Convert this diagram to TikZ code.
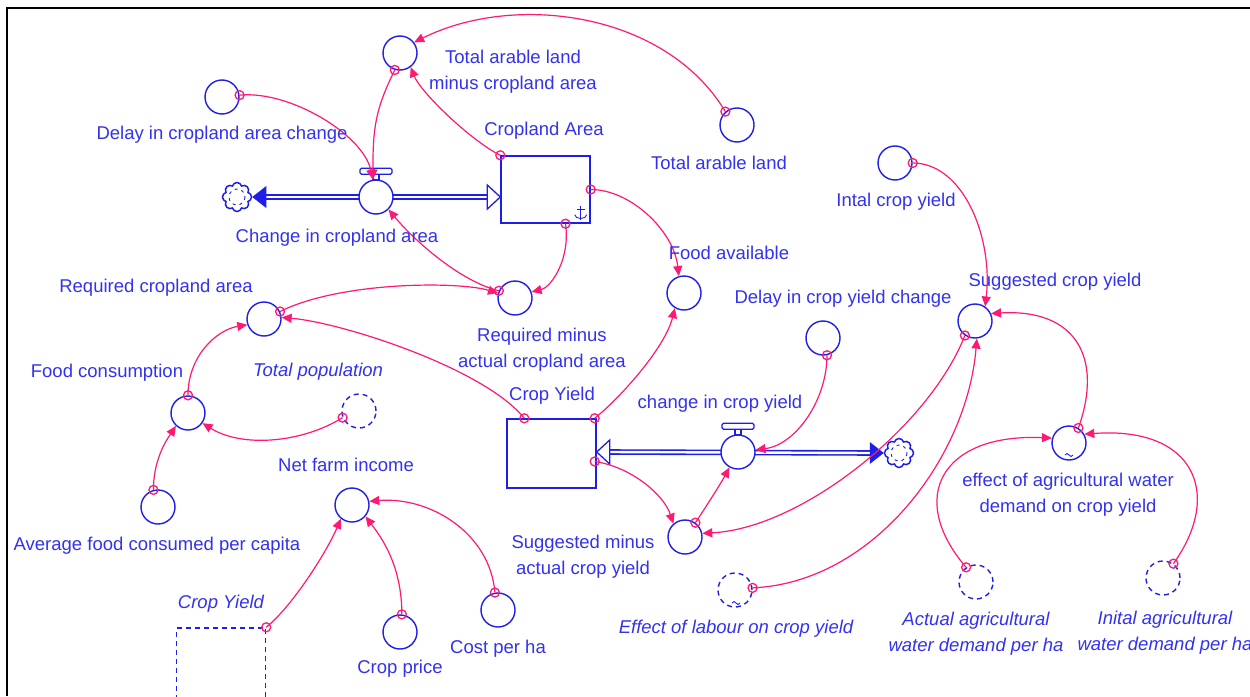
\documentclass[tikz,border=0pt]{standalone}
\usepackage{fontspec}
\setmainfont{Liberation Sans}
\usetikzlibrary{arrows.meta,shapes.symbols,calc,backgrounds}
\definecolor{sdblue}{RGB}{30,30,235}
\definecolor{txblue}{RGB}{50,50,240}
\definecolor{lnkpink}{RGB}{255,25,115}
\newcommand\lblfont{\fontsize{18.5}{26}\selectfont}
\begin{document}
\begin{tikzpicture}[x=1pt,y=-1pt,
 aux/.style={circle, draw=sdblue, fill=white, line width=1.4pt, minimum size=34pt, inner sep=0pt},
 ghost/.style={aux, dash pattern=on 5pt off 4pt},
 stock/.style={rectangle, draw=sdblue, line width=1.4pt, minimum width=89pt, minimum height=67pt, inner sep=0pt},
 cloudnode/.style={cloud, cloud puffs=8, aspect=1, draw=sdblue, fill=white, line width=1.5pt, minimum size=29pt, inner sep=0pt},
 lbl/.style={text=txblue, font=\lblfont, inner sep=0pt, align=center},
 ilbl/.style={lbl, font=\lblfont\itshape},
 link/.style={draw=lnkpink, line width=1.2pt, -{Triangle[length=10pt,width=9pt]}},
 orig/.style={draw=lnkpink, line width=1.3pt},
 pipe/.style={draw=sdblue, line width=1.6pt, double=white, double distance=2.4pt},
 hollow/.style={draw=sdblue, line width=1.3pt, fill=white},
 sdmark/.style={draw=sdblue, line width=0.9pt},
]
\useasboundingbox (0,0) rectangle (1250,696);
\begin{pgfonlayer}{background}
\fill[white] (0,0) rectangle (1250,696);
\end{pgfonlayer}
\draw[line width=2pt] (7,696) -- (7,8) -- (1250,8);

% ---------- stocks ----------
\node[stock] (stockC) at (545.5,189.5) {};
\node[stock, minimum height=69pt] (stockY) at (551.5,453.5) {};
\node[stock, minimum height=88pt, dash pattern=on 5pt off 4pt] (stockG) at (221,672) {};

% ---------- clouds ----------
\node[cloudnode] (cloudC) at (237,197) {};
\node[cloudnode] (cloudY) at (899,453) {};
\draw[sdmark, dash pattern=on 3pt off 4pt] (cloudC.center) circle (8);
\draw[sdmark, dash pattern=on 3pt off 4pt] (cloudY.center) circle (8);

% ---------- valves ----------
\node[aux] (valveC) at (376,197) {};
\node[aux] (valveY) at (738,452) {};

% ---------- auxiliaries ----------
\node[aux] (tal) at (400,53) {};
\node[aux] (delayC) at (222,97) {};
\node[aux] (tarable) at (737,125) {};
\node[aux] (intal) at (895,163) {};
\node[aux] (foodav) at (684,293) {};
\node[aux] (reqminus) at (515,298) {};
\node[aux] (reqcrop) at (264,319) {};
\node[aux] (foodcons) at (188,413) {};
\node[ghost] (totpop) at (359,411) {};
\node[aux] (avgfood) at (158,507) {};
\node[aux] (netfarm) at (352,505) {};
\node[aux] (cropprice) at (400,632) {};
\node[aux] (costha) at (498,610) {};
\node[aux] (sugminus) at (685,537) {};
\node[aux] (delayY) at (823,338) {};
\node[aux] (sugcrop) at (975,321) {};
\node[ghost] (efflab) at (735,590) {};
\node[aux] (effwater) at (1069,443) {};
\node[ghost] (actwater) at (976,582) {};
\node[ghost] (initwater) at (1163,578) {};

% ---------- pipes ----------
\begin{pgfonlayer}{background}
\draw[pipe] ($(cloudC.east)+(12,0)$) -- ($(stockC.west |- valveC.center)+(-12,0)$);
\draw[pipe] ($(stockY.east |- valveY.center)+(12,0)$) -- ($(cloudY.west)+(-12,0)$);
\end{pgfonlayer}
\fill[sdblue] (cloudC.east) -- ++(14,-11) -- ++(0,22) -- cycle;
\draw[hollow] (stockC.west |- valveC.center) -- ++(-13,-12) -- ++(0,24) -- cycle;
\draw[hollow] (stockY.east |- valveY.center) -- ++(13,-12) -- ++(0,24) -- cycle;
\fill[sdblue] (cloudY.west) -- ++(-14,-11) -- ++(0,22) -- cycle;

% valve handles
\draw[sdmark, line width=1.2pt, fill=white, rounded corners=1.5pt] ($(valveC.north)+(-16,-11)$) rectangle ($(valveC.north)+(16,-5)$);
\draw[sdmark, line width=1.2pt] ($(valveC.north)+(-3,-5)$) rectangle ($(valveC.north)+(3,0)$);
\draw[sdmark, line width=1.2pt, fill=white, rounded corners=1.5pt] ($(valveY.north)+(-16,-11)$) rectangle ($(valveY.north)+(16,-5)$);
\draw[sdmark, line width=1.2pt] ($(valveY.north)+(-3,-5)$) rectangle ($(valveY.north)+(3,0)$);

% non-negative mark in Cropland Area
\coordinate (nn) at ($(stockC.south east)+(-10,-11)$);
\draw[sdmark] ($(nn)+(0,-7)$) -- ($(nn)+(0,7)$);
\draw[sdmark] ($(nn)+(-4,-3)$) -- ($(nn)+(4,-3)$);
\draw[sdmark] ($(nn)+(-6,2)$) .. controls ($(nn)+(-6,7)$) and ($(nn)+(6,7)$) .. ($(nn)+(6,2)$);

% graph-function marks
\draw[sdmark] ($(effwater.center)+(-4,12)$) sin ++(2,-1.5) cos ++(2,1.5) sin ++(2,1.5) cos ++(2,-1.5);
\draw[sdmark] ($(efflab.center)+(-3,13)$) sin ++(2,-1.5) cos ++(2,1.5) sin ++(2,1.5) cos ++(2,-1.5);

% ---------- links ----------
\draw[orig] (tarable.131) circle (4.5);
\draw[link] (tarable.131) .. controls +(-60,-100) and +(100,-50) .. (tal.37);
\draw[orig] (tal.-107) circle (4.5);
\draw[link] (tal.-107) .. controls +(-20,40) and +(0,-50) .. (valveC.100);
\draw[orig] (delayC.6) circle (4.5);
\draw[link] (delayC.6) .. controls +(50,-5) and +(-10,-45) .. (valveC.100);
\draw[orig] (stockC.north west) circle (4.5);
\draw[link] (stockC.north west) .. controls +(-30,-15) and +(10,25) .. (tal.-53);
\draw[orig] (stockC.east) circle (4.5);
\draw[link] (stockC.east) .. controls +(40,0) and +(-5,-45) .. (foodav.107);
\draw[orig] ($(stockC.south)+(20,0)$) circle (4.5);
\draw[link] ($(stockC.south)+(20,0)$) .. controls +(5,35) and +(20,-5) .. (reqminus.20);
\draw[orig] (reqminus.156) circle (4.5);
\draw[link] (reqminus.156) .. controls +(-40,-10) and +(25,30) .. (valveC.-45);
\draw[orig] (reqcrop.25) circle (4.5);
\draw[link] (reqcrop.25) .. controls +(60,-30) and +(-40,-12) .. (reqminus.164);
\draw[orig] ($(stockY.north west)+(18,0)$) circle (4.5);
\draw[link] ($(stockY.north west)+(18,0)$) .. controls +(-40,-50) and +(60,5) .. (reqcrop.5);
\draw[orig] ($(stockY.north east)+(-2,0)$) circle (4.5);
\draw[link] ($(stockY.north east)+(-2,0)$) .. controls +(25,-20) and +(-10,40) .. (foodav.-121);
\draw[orig] (foodcons.90) circle (4.5);
\draw[link] (foodcons.90) .. controls +(0,-40) and +(-30,5) .. (reqcrop.-161);
\draw[orig] (totpop.-158) circle (4.5);
\draw[link] (totpop.-158) .. controls +(-40,25) and +(40,25) .. (foodcons.-35);
\draw[orig] (avgfood.105) circle (4.5);
\draw[link] (avgfood.105) .. controls +(0,-30) and +(-10,15) .. (foodcons.-133);
\draw[orig] (stockG.north east) circle (4.5);
\draw[link] (stockG.north east) .. controls +(25,-20) and +(-15,35) .. (netfarm.-129);
\draw[orig] (cropprice.84) circle (4.5);
\draw[link] (cropprice.84) .. controls +(0,-50) and +(15,20) .. (netfarm.-40);
\draw[orig] (costha.100) circle (4.5);
\draw[link] (costha.100) .. controls +(-5,-60) and +(60,-5) .. (netfarm.12);
\draw[orig] (intal.0) circle (4.5);
\draw[link] (intal.0) .. controls +(50,0) and +(8,-70) .. (sugcrop.55);
\draw[orig] (effwater.58) circle (4.5);
\draw[link] (effwater.58) .. controls +(25,-70) and +(85,-5) .. (sugcrop.25);
\draw[orig] (sugcrop.-125) circle (4.5);
\draw[link] (sugcrop.-125) .. controls +(-35,90) and +(100,-5) .. (sugminus.12);
\draw[orig] (efflab.7) circle (4.5);
\draw[link] (efflab.7) .. controls +(120,-5) and +(-10,120) .. (sugcrop.-84);
\draw[orig] (actwater.124) circle (4.5);
\draw[link] (actwater.124) .. controls +(-60,-70) and +(-110,-5) .. (effwater.164);
\draw[orig] (initwater.54) circle (4.5);
\draw[link] (initwater.54) .. controls +(50,-70) and +(110,-8) .. (effwater.30);
\draw[orig] ($(stockY.east)+(-2,8)$) circle (4.5);
\draw[link] ($(stockY.east)+(-2,8)$) .. controls +(35,5) and +(-10,-30) .. (sugminus.131);
\draw[orig] (sugminus.54) circle (4.5);
\draw[link] (sugminus.54) .. controls +(10,-15) and +(-8,15) .. (valveY.-119);
\draw[orig] (delayY.-77) circle (4.5);
\draw[link] (delayY.-77) .. controls +(0,45) and +(40,-5) .. (valveY.7);

% ---------- labels ----------
\node[lbl] (lTal) at (513,72) {Total arable land\\minus cropland area};
\node[lbl] (lDelC) at (222,135) {Delay in cropland area change};
\node[lbl] (lChC) at (337,238) {Change in cropland area};
\node[lbl] (lStC) at (544,131) {Cropland Area};
\node[lbl] (lTa) at (719,163) {Total arable land};
\node[lbl] (lIn) at (896,202) {Intal crop yield};
\node[lbl] (lFa) at (729,253) {Food available};
\node[lbl] (lRm) at (542,350) {Required minus\\actual cropland area};
\node[lbl] (lStY) at (552,396) {Crop Yield};
\node[lbl] (lChY) at (720,404) {change in crop yield};
\node[lbl] (lDelY) at (843,299) {Delay in crop yield change};
\node[lbl] (lSc) at (1055,282) {Suggested crop yield};
\node[lbl] (lRc) at (156,288) {Required cropland area};
\node[lbl] (lFc) at (107,373) {Food consumption};
\node[ilbl] (lTp) at (318,372) {Total population};
\node[lbl] (lNf) at (346,465) {Net farm income};
\node[lbl] (lAf) at (157,546) {Average food consumed per capita};
\node[ilbl] (lCg) at (221,604) {Crop Yield};
\node[lbl] (lCp) at (400,669) {Crop price};
\node[lbl] (lCh) at (498,649) {Cost per ha};
\node[lbl] (lSm) at (583,557) {Suggested minus\\actual crop yield};
\node[ilbl] (lEl) at (736,629) {Effect of labour on crop yield};
\node[lbl] (lEw) at (1068,495) {effect of agricultural water\\demand on crop yield};
\node[ilbl] (lAw) at (976,634) {Actual agricultural\\water demand per ha};
\node[ilbl] (lIw) at (1165,633) {Inital agricultural\\water demand per ha};
\end{tikzpicture}
\end{document}
